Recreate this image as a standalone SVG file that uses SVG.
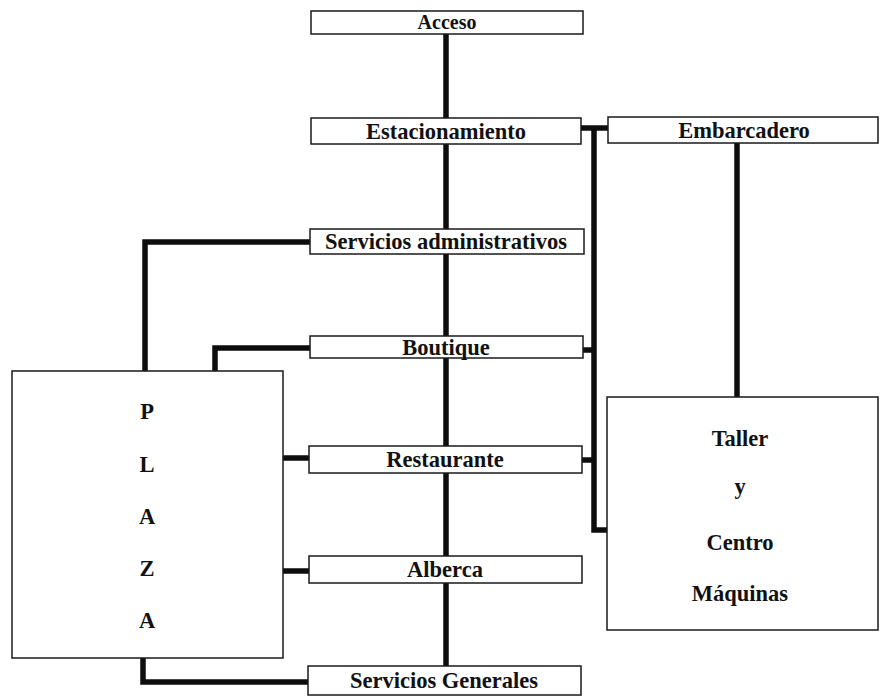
<svg xmlns="http://www.w3.org/2000/svg" width="885" height="697" viewBox="0 0 885 697">
  <style>
    .box { fill: #ffffff; stroke: #1a1a1a; stroke-width: 1.5; }
    .lbl { font-family: "Liberation Serif", "Times New Roman", serif; font-weight: bold; font-size: 22.5px; fill: #111111; text-anchor: middle; }
    .small { font-size: 20px; }
    .wire { fill: none; stroke: #0d0d0d; stroke-width: 5.5; stroke-linecap: butt; stroke-linejoin: miter; }
  </style>
  <rect width="885" height="697" fill="#ffffff"/>

  <!-- connectors -->
  <g id="connectors">
    <!-- main spine -->
    <path class="wire" d="M446,34 V118 M446,144 V229 M446,254 V336 M446,358 V446 M446,473 V556 M446,583 V666"/>
    <!-- Estacionamiento / Embarcadero branch and right-hand riser -->
    <path class="wire" d="M581,128 H608 M594,128 V530 H607"/>
    <path class="wire" d="M583,350 H594 M582,460 H594"/>
    <!-- Embarcadero to Taller -->
    <path class="wire" d="M737,143 V397"/>
    <!-- links to the plaza -->
    <path class="wire" d="M310,242 H145 V371"/>
    <path class="wire" d="M310,348 H215 V371"/>
    <path class="wire" d="M283,458 H309"/>
    <path class="wire" d="M283,571 H309"/>
    <path class="wire" d="M143,658 V682 H308"/>
  </g>

  <g id="acceso">
    <rect class="box" x="311" y="11" width="272" height="23"/>
    <text class="lbl small" x="447" y="29">Acceso</text>
  </g>
  <g id="estacionamiento">
    <rect class="box" x="311" y="118" width="270" height="26"/>
    <text class="lbl" x="446" y="138.5">Estacionamiento</text>
  </g>
  <g id="embarcadero">
    <rect class="box" x="608" y="117" width="270" height="26"/>
    <text class="lbl" x="744" y="137.5">Embarcadero</text>
  </g>
  <g id="servicios-administrativos">
    <rect class="box" x="310" y="229" width="274" height="25"/>
    <text class="lbl" x="446" y="249">Servicios administrativos</text>
  </g>
  <g id="boutique">
    <rect class="box" x="310" y="336" width="273" height="22"/>
    <text class="lbl" x="446" y="354.5">Boutique</text>
  </g>
  <g id="restaurante">
    <rect class="box" x="309" y="446" width="273" height="27"/>
    <text class="lbl" x="445" y="467">Restaurante</text>
  </g>
  <g id="alberca">
    <rect class="box" x="309" y="556" width="273" height="27"/>
    <text class="lbl" x="445" y="577">Alberca</text>
  </g>
  <g id="servicios-generales">
    <rect class="box" x="308" y="666" width="273" height="29"/>
    <text class="lbl" x="444" y="688">Servicios Generales</text>
  </g>
  <g id="plaza">
    <rect class="box" x="12" y="371" width="271" height="287"/>
    <text class="lbl" x="147" y="419">P</text>
    <text class="lbl" x="147" y="472">L</text>
    <text class="lbl" x="147" y="524">A</text>
    <text class="lbl" x="147" y="576">Z</text>
    <text class="lbl" x="147" y="628">A</text>
  </g>
  <g id="taller">
    <rect class="box" x="607" y="397" width="271" height="233"/>
    <text class="lbl" x="740" y="445.5">Taller</text>
    <text class="lbl" x="740" y="493.5">y</text>
    <text class="lbl" x="740" y="549.5">Centro</text>
    <text class="lbl" x="740" y="600.5">Máquinas</text>
  </g>
</svg>
